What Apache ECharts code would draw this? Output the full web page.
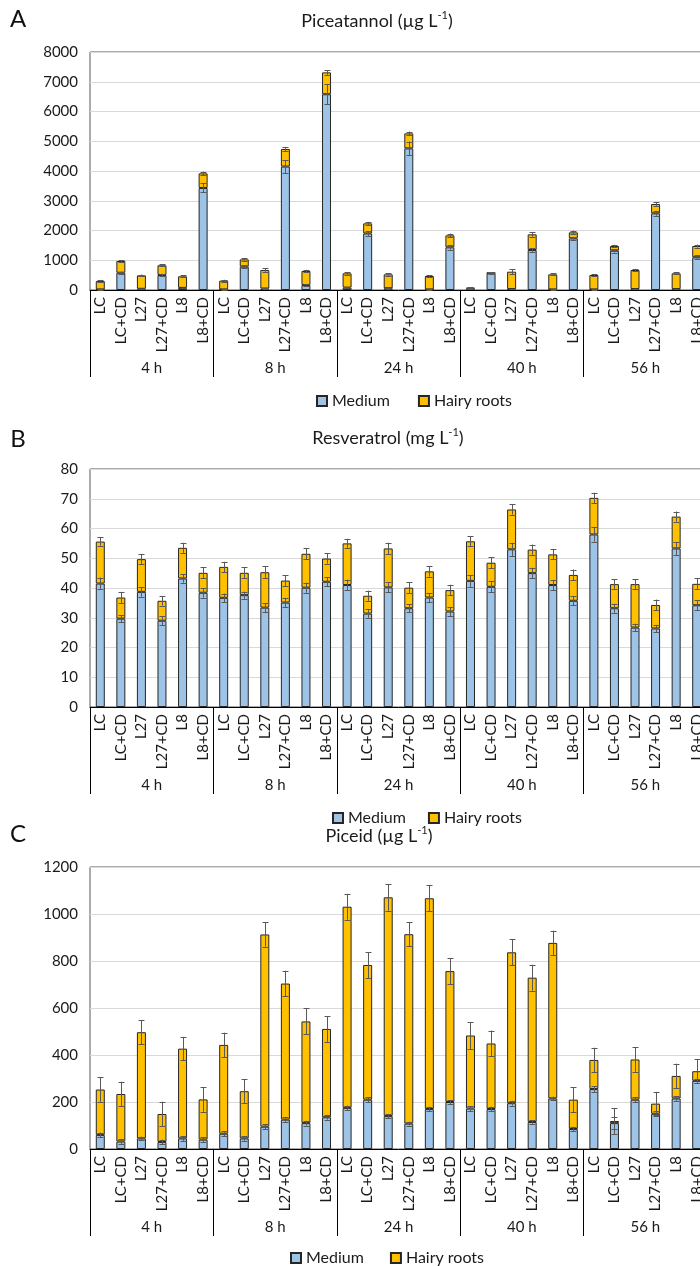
<!DOCTYPE html>
<html><head><meta charset="utf-8">
<script src="https://cdn.jsdelivr.net/npm/echarts@6/dist/echarts.min.js"></script>
<style>html,body{margin:0;padding:0;overflow:hidden;background:#fff;width:700px;height:1266px}#c{width:720px;height:1266px}</style>
</head><body><div id="c"></div><script>
// ---- data ----
const treatments = ['LC', 'LC+CD', 'L27', 'L27+CD', 'L8', 'L8+CD'];
const times = ['4 h', '8 h', '24 h', '40 h', '56 h'];

// Panel A: Piceatannol (µg/L)
const ticksA = [0, 1000, 2000, 3000, 4000, 5000, 6000, 7000, 8000];
const mediumA = [20, 580, 40, 505, 70, 3430,   20, 785, 50, 4150, 170, 6580,   80, 1900, 60, 4760, 20, 1434,   40, 565, 30, 1344, 20, 1736,   20, 1320, 30, 2576, 30, 1100];
const hairyA  = [280, 395, 450, 325, 390, 490,  293, 245, 620, 590, 470, 735,  480, 340, 466, 504, 450, 403,  40, 15, 586, 526, 506, 202,  484, 158, 642, 314, 530, 378];
const mediumErrA = [10, 40, 10, 40, 10, 150,  10, 40, 10, 220, 20, 330,  10, 80, 10, 230, 10, 80,  5, 20, 10, 60, 10, 40,  10, 60, 10, 80, 10, 60];
const hairyErrA  = [30, 30, 30, 40, 30, 60,  30, 40, 60, 70, 40, 80,  40, 50, 40, 60, 30, 60,  10, 20, 80, 80, 30, 60,  30, 40, 40, 60, 30, 50];

// Panel B: Resveratrol (mg/L)
const ticksB = [0, 10, 20, 30, 40, 50, 60, 70, 80];
const mediumB = [41.5, 29.7, 38.7, 29.0, 43.2, 38.4,  36.7, 37.6, 33.4, 35.1, 40.1, 42.1,  41.0, 31.4, 40.2, 33.2, 36.8, 32.1,  42.4, 40.4, 53.0, 45.0, 41.0, 35.7,  58.0, 33.2, 26.7, 26.4, 53.3, 34.2];
const hairyB  = [14.1, 7.1, 11.0, 6.7, 10.3, 6.7,  10.4, 7.5, 11.9, 7.4, 11.4, 7.8,  14.0, 6.0, 13.1, 6.9, 8.8, 7.2,  13.3, 8.1, 13.4, 7.9, 10.3, 8.7,  12.3, 8.1, 14.6, 7.9, 10.7, 7.2];
const mediumErrB = [2.0, 1.2, 1.6, 1.5, 1.4, 1.6,  1.4, 1.2, 1.5, 1.6, 1.7, 1.5,  1.8, 1.4, 1.7, 1.3, 1.5, 1.5,  2.0, 1.8, 2.2, 1.8, 1.7, 1.5,  2.4, 1.5, 1.3, 1.2, 2.2, 1.6];
const hairyErrB  = [1.4, 1.9, 1.7, 1.6, 1.7, 1.8,  1.7, 1.8, 2.0, 1.8, 1.8, 1.7,  1.5, 1.7, 1.9, 1.8, 1.8, 1.8,  1.7, 1.8, 1.7, 1.7, 1.7, 1.8,  1.7, 1.6, 1.6, 1.8, 1.7, 1.9];

// Panel C: Piceid (µg/L)
const ticksC = [0, 200, 400, 600, 800, 1000, 1200];
const mediumC = [60, 32, 45, 30, 45, 40,  65, 45, 95, 125, 110, 135,  175, 210, 140, 108, 170, 200,  172, 170, 195, 115, 215, 85,  255, 110, 210, 150, 215, 290];
const hairyC  = [193, 202, 452, 119, 382, 171,  378, 201, 818, 579, 433, 376,  856, 573, 931, 806, 897, 557,  311, 279, 642, 614, 662, 125,  124, 9, 171, 43, 96, 41];
const mediumErrC = [10, 10, 8, 10, 10, 10,  10, 10, 10, 10, 10, 10,  10, 10, 10, 8, 10, 8,  10, 10, 10, 8, 8, 10,  12, 25, 10, 10, 10, 10];
const hairyErrC  = [52, 52, 50, 52, 50, 52,  52, 52, 52, 55, 55, 55,  55, 55, 57, 52, 55, 55,  57, 55, 55, 55, 52, 52,  52, 55, 52, 50, 52, 50];

// ---- build ----
const categories = [];
times.forEach(() => treatments.forEach(t => categories.push(t)));

const FONT = 'Lato';
const TXT = '#1a1a1a';
const BLUE = '#9DC3E6', GOLD = '#FFC000', EDGE = '#262626';

const panels = [
  {letter: 'A', title: 'Piceatannol (µg L', top: 52, height: 238, ticks: ticksA, med: mediumA, hr: hairyA, medE: mediumErrA, hrE: hairyErrA, titleY: 21, letterY: 19, legendLeft: 316, legendTop: 393, legendGap: 28},
  {letter: 'B', title: 'Resveratrol (mg L', top: 469, height: 238, ticks: ticksB, med: mediumB, hr: hairyB, medE: mediumErrB, hrE: hairyErrB, titleY: 438, letterY: 439, legendLeft: 332, legendTop: 810, legendGap: 22},
  {letter: 'C', title: 'Piceid (µg L', top: 867, height: 282, ticks: ticksC, med: mediumC, hr: hairyC, medE: mediumErrC, hrE: hairyErrC, titleY: 836, letterY: 834, legendLeft: 290, legendTop: 1250, legendGap: 26}
];
const titleX = [377, 388, 379];

function errRender(params, api) {
  const x = api.value(0), c = api.value(1), e = api.value(2);
  const t = api.coord([x, c + e]);
  const b = api.coord([x, Math.max(0, c - e)]);
  const px = Math.round(t[0]) + 0.5;
  const h = 3;
  const style = {stroke: '#595959', lineWidth: 1};
  return {type: 'group', children: [
    {type: 'line', shape: {x1: px, y1: t[1], x2: px, y2: b[1]}, style},
    {type: 'line', shape: {x1: px - h, y1: Math.round(t[1]) + 0.5, x2: px + h, y2: Math.round(t[1]) + 0.5}, style},
    {type: 'line', shape: {x1: px - h, y1: Math.round(b[1]) + 0.5, x2: px + h, y2: Math.round(b[1]) + 0.5}, style}
  ]};
}

const grid = [], xAxis = [], yAxis = [], series = [], legend = [], graphic = [];
panels.forEach((p, i) => {
  grid.push({left: 90, right: 13, top: p.top, height: p.height, show: true, borderColor: '#595959', borderWidth: 1, containLabel: false});
  xAxis.push({
    type: 'category', gridIndex: i, data: categories, position: 'bottom',
    axisLine: {lineStyle: {color: '#000', width: 1}}, axisTick: {show: false},
    axisLabel: {rotate: 90, interval: 0, fontSize: 15, color: TXT, fontFamily: FONT, margin: 7}
  });
  xAxis.push({
    type: 'category', gridIndex: i, data: times, position: 'bottom', offset: 0,
    axisLine: {show: false},
    axisTick: {show: true, length: 87, lineStyle: {color: '#000', width: 1}},
    axisLabel: {interval: 0, fontSize: 15, color: TXT, fontFamily: FONT, margin: 71}
  });
  yAxis.push({
    type: 'value', gridIndex: i, min: p.ticks[0], max: p.ticks[p.ticks.length - 1],
    interval: p.ticks[1] - p.ticks[0],
    axisLine: {show: false}, axisTick: {show: false},
    splitLine: {lineStyle: {color: '#d9d9d9', width: 1}},
    axisLabel: {fontSize: 15, color: TXT, fontFamily: FONT, margin: 12, formatter: v => String(v)}
  });
  const itemBase = {borderColor: EDGE, borderWidth: 1};
  series.push({name: 'Medium', type: 'bar', stack: 's' + i, xAxisIndex: 2 * i, yAxisIndex: i, barWidth: 9,
    itemStyle: Object.assign({color: BLUE}, itemBase), data: p.med});
  series.push({name: 'Hairy roots', type: 'bar', stack: 's' + i, xAxisIndex: 2 * i, yAxisIndex: i, barWidth: 9,
    itemStyle: Object.assign({color: GOLD}, itemBase), data: p.hr});
  series.push({name: 'errMed' + i, type: 'custom', xAxisIndex: 2 * i, yAxisIndex: i, z: 5,
    renderItem: errRender, encode: {x: 0, y: 1},
    data: p.med.map((v, k) => [k, v, p.medE[k]])});
  series.push({name: 'errHr' + i, type: 'custom', xAxisIndex: 2 * i, yAxisIndex: i, z: 5,
    renderItem: errRender, encode: {x: 0, y: 1},
    data: p.hr.map((v, k) => [k, v + p.med[k], p.hrE[k]])});
  legend.push({data: ['Medium', 'Hairy roots'], left: p.legendLeft, top: p.legendTop, orient: 'horizontal', padding: 0,
    itemWidth: 10, itemHeight: 10, itemGap: p.legendGap, itemTextGap: 4, icon: 'rect', selectedMode: false,
    textStyle: {fontSize: 16, color: TXT, fontFamily: FONT}});
  graphic.push({type: 'text', x: 18, y: p.letterY, style: {text: p.letter, fontSize: 24, fill: '#111', fontFamily: FONT, align: 'center', verticalAlign: 'middle'}});
  graphic.push({type: 'text', x: titleX[i], y: p.titleY, style: {
    text: '{b|' + p.title + '}{s|-1}{b|)}', align: 'center', verticalAlign: 'middle', fontFamily: FONT,
    rich: {b: {fontSize: 18, fill: TXT, fontFamily: FONT, lineHeight: 22}, s: {fontSize: 11, fill: TXT, fontFamily: FONT, verticalAlign: 'top', lineHeight: 13}}
  }});
});

const chart = echarts.init(document.getElementById('c'), null, {renderer: 'canvas'});
chart.setOption({animation: false, backgroundColor: '#fff', grid, xAxis, yAxis, series, legend, graphic});
</script></body></html>
